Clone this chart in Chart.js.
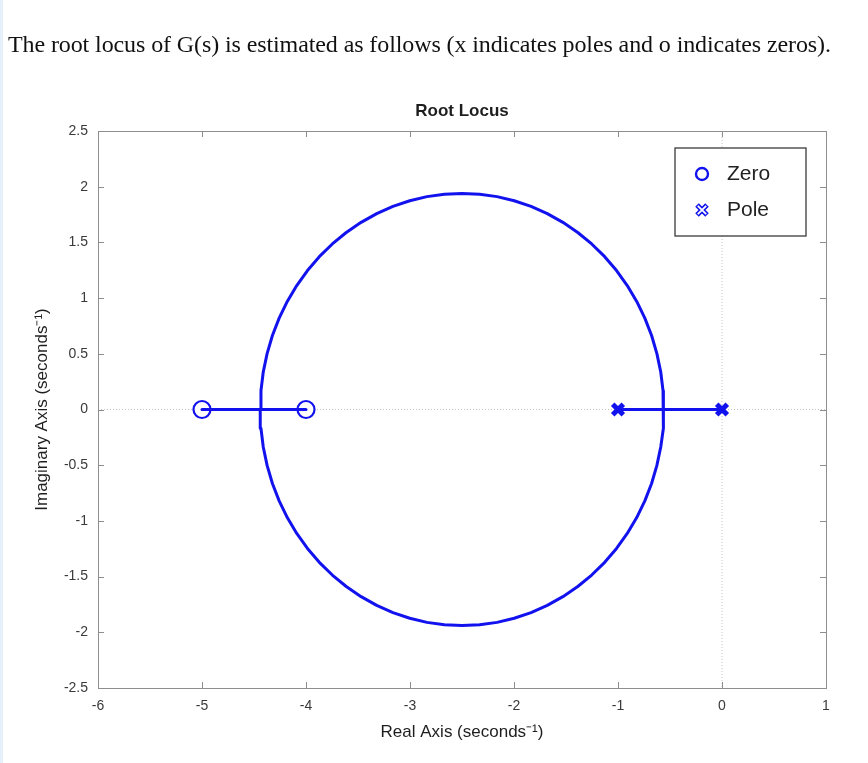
<!DOCTYPE html>
<html>
<head>
<meta charset="utf-8">
<script src="https://cdn.jsdelivr.net/npm/chart.js@4.4.1/dist/chart.umd.min.js"></script>
<style>
    html, body { margin: 0; padding: 0; background: #fff; }
    body { width: 868px; height: 763px; position: relative; overflow: hidden; }
    .edge { position: absolute; left: 0; top: 0; width: 3px; height: 763px; background: #e6f0fa; }
    .caption {
        position: absolute; left: 8px; top: 31px;
        font-family: "Liberation Serif", "Times New Roman", serif;
        font-size: 24px; color: #111; white-space: nowrap;
        letter-spacing: -0.1px;
    }
    #wrap { position: absolute; left: 0; top: 0; width: 868px; height: 763px; }
</style>
</head>
<body>
<div class="edge"></div>
<div id="wrap"><canvas id="locusChart"></canvas></div>
<div class="caption">The root locus of G(s) is estimated as follows (x indicates poles and o indicates zeros).</div>
<script>
// circle part of the locus (closed loop: upper half left->right, lower half right->left)
const locusRe = [
    -4.440, -4.433, -4.411, -4.374, -4.323, -4.258, -4.180, -4.089, -3.986, -3.872,
    -3.747, -3.613, -3.470, -3.320, -3.164, -3.002, -2.837, -2.669, -2.500,
    -2.331, -2.163, -1.998, -1.836, -1.680, -1.530, -1.387, -1.253, -1.128,
    -1.014, -0.911, -0.820, -0.742, -0.677, -0.626, -0.589, -0.567, -0.560,
    -0.567, -0.589, -0.626, -0.677, -0.742, -0.820, -0.911, -1.014, -1.128,
    -1.253, -1.387, -1.530, -1.680, -1.836, -1.998, -2.163, -2.331, -2.500,
    -2.669, -2.837, -3.002, -3.164, -3.320, -3.470, -3.613, -3.747, -3.872,
    -3.986, -4.089, -4.180, -4.258, -4.323, -4.374, -4.411, -4.433, -4.440
];
const locusIm = [
    0, 0.169, 0.337, 0.502, 0.664, 0.820, 0.970, 1.113, 1.247, 1.372,
    1.486, 1.589, 1.680, 1.758, 1.823, 1.874, 1.911, 1.933, 1.940,
    1.933, 1.911, 1.874, 1.823, 1.758, 1.680, 1.589, 1.486, 1.372,
    1.247, 1.113, 0.970, 0.820, 0.664, 0.502, 0.337, 0.169, 0,
    -0.169, -0.337, -0.502, -0.664, -0.820, -0.970, -1.113, -1.247, -1.372,
    -1.486, -1.589, -1.680, -1.758, -1.823, -1.874, -1.911, -1.933, -1.940,
    -1.933, -1.911, -1.874, -1.823, -1.758, -1.680, -1.589, -1.486, -1.372,
    -1.247, -1.113, -0.970, -0.820, -0.664, -0.502, -0.337, -0.169, 0
];

// branches on the real axis
const leftBranchRe = [-5, -4];
const rightBranchRe = [-1, 0];

const zeroRe = [-5, -4];
const poleRe = [-1, 0];

const xMin = -6, xMax = 1, xStep = 1;
const yMin = -2.5, yMax = 2.5, yStep = 0.5;

const BLUE = "rgb(18, 18, 238)";
const FONT = "'Liberation Sans', Arial, Helvetica, sans-serif";

function pts(re, im) {
    return re.map((x, i) => ({ x: x, y: im ? im[i] : 0 }));
}

// box, inward ticks, dotted zero lines and the title
const framePlugin = {
    id: "frame",
    beforeDatasetsDraw(chart) {
        const { ctx, chartArea: a, scales } = chart;
        ctx.save();
        // dotted lines through the origin
        ctx.strokeStyle = "#c4c4c4";
        ctx.lineWidth = 1;
        ctx.setLineDash([1, 2]);
        const x0 = scales.x.getPixelForValue(0);
        const y0 = scales.y.getPixelForValue(0);
        ctx.beginPath();
        ctx.moveTo(x0, a.top); ctx.lineTo(x0, a.bottom);
        ctx.moveTo(a.left, y0); ctx.lineTo(a.right, y0);
        ctx.stroke();
        ctx.setLineDash([]);

        // axes box
        ctx.strokeStyle = "#8e8e8e";
        ctx.lineWidth = 1;
        ctx.strokeRect(a.left + 0.5, a.top + 0.5, a.right - a.left, a.bottom - a.top);

        // ticks pointing inwards
        const len = 6;
        ctx.beginPath();
        scales.x.ticks.forEach(t => {
            const px = Math.round(scales.x.getPixelForValue(t.value)) + 0.5;
            ctx.moveTo(px, a.bottom); ctx.lineTo(px, a.bottom - len);
            ctx.moveTo(px, a.top); ctx.lineTo(px, a.top + len);
        });
        scales.y.ticks.forEach(t => {
            const py = Math.round(scales.y.getPixelForValue(t.value)) + 0.5;
            ctx.moveTo(a.left, py); ctx.lineTo(a.left + len, py);
            ctx.moveTo(a.right, py); ctx.lineTo(a.right - len, py);
        });
        ctx.stroke();

        // title
        ctx.fillStyle = "#1e1e1e";
        ctx.font = "bold 17px " + FONT;
        ctx.textAlign = "center";
        ctx.textBaseline = "middle";
        ctx.fillText("Root Locus", (a.left + a.right) / 2, a.top - 20);
        ctx.restore();
    },
    afterDatasetsDraw(chart) {
        const { ctx, chartArea: a } = chart;
        const w = 131, h = 88;
        const bx = a.right - 20 - w, by = a.top + 17;
        ctx.save();
        ctx.fillStyle = "#fff";
        ctx.fillRect(bx, by, w, h);
        ctx.strokeStyle = "#3a3a3a";
        ctx.lineWidth = 1.3;
        ctx.strokeRect(bx, by, w, h);

        const mx = bx + 27;
        const zy = by + 26, py = by + 62;
        // zero marker
        ctx.beginPath();
        ctx.arc(mx, zy, 6, 0, Math.PI * 2);
        ctx.strokeStyle = BLUE;
        ctx.lineWidth = 2.4;
        ctx.stroke();
        // pole marker (outlined x)
        const s = 5;
        ctx.beginPath();
        ctx.moveTo(mx - s, py - s); ctx.lineTo(mx + s, py + s);
        ctx.moveTo(mx - s, py + s); ctx.lineTo(mx + s, py - s);
        ctx.lineWidth = 5;
        ctx.stroke();
        ctx.beginPath();
        ctx.moveTo(mx - s + 0.8, py - s + 0.8); ctx.lineTo(mx + s - 0.8, py + s - 0.8);
        ctx.moveTo(mx - s + 0.8, py + s - 0.8); ctx.lineTo(mx + s - 0.8, py - s + 0.8);
        ctx.strokeStyle = "#fff";
        ctx.lineWidth = 1.8;
        ctx.stroke();

        ctx.fillStyle = "#222";
        ctx.font = "21px " + FONT;
        ctx.textAlign = "left";
        ctx.textBaseline = "middle";
        ctx.fillText("Zero", bx + 52, zy);
        ctx.fillText("Pole", bx + 52, py);
        ctx.restore();
    }
};

const lineStyle = {
    showLine: true, pointRadius: 0, borderColor: BLUE, borderWidth: 3, tension: 0, fill: false,
    borderCapStyle: "round", borderJoinStyle: "round"
};

const tickText = v => String(Math.round(v * 10) / 10);

new Chart(document.getElementById("locusChart"), {
    type: "scatter",
    data: {
        datasets: [
            { label: "Locus", data: pts(locusRe, locusIm), ...lineStyle },
            { label: "Left branch", data: pts(leftBranchRe), ...lineStyle },
            { label: "Right branch", data: pts(rightBranchRe), ...lineStyle },
            {
                label: "Zero", data: pts(zeroRe), pointStyle: "circle", pointRadius: 8.5,
                backgroundColor: "#fff", borderColor: BLUE, borderWidth: 2.2
            },
            {
                label: "Pole", data: pts(poleRe), pointStyle: "crossRot", pointRadius: 7.5,
                borderColor: BLUE, borderWidth: 5
            },
            {
                label: "Pole inner", data: pts(poleRe), pointStyle: "crossRot", pointRadius: 6.3,
                borderColor: "#fff", borderWidth: 1.8
            }
        ]
    },
    options: {
        responsive: true,
        maintainAspectRatio: false,
        animation: false,
        events: [],
        layout: { padding: { left: 20, right: 42, top: 131, bottom: 20 } },
        plugins: {
            legend: { display: false },
            tooltip: { enabled: false },
            title: { display: false }
        },
        scales: {
            x: {
                type: "linear",
                min: xMin, max: xMax,
                ticks: { stepSize: xStep, color: "#3a3a3a", padding: 10, font: { family: FONT, size: 14 }, callback: tickText },
                grid: { display: false, drawTicks: false },
                border: { display: false },
                title: {
                    display: true, text: "Real Axis (seconds\u207B\u00B9)", color: "#1e1e1e",
                    font: { family: FONT, size: 17 }, padding: { top: 0, bottom: 0 }
                },
                afterFit(scale) { scale.height = 55; }
            },
            y: {
                type: "linear",
                min: yMin, max: yMax,
                ticks: { stepSize: yStep, color: "#3a3a3a", padding: 10, font: { family: FONT, size: 14 }, callback: tickText },
                grid: { display: false, drawTicks: false },
                border: { display: false },
                title: {
                    display: true, text: "Imaginary Axis (seconds\u207B\u00B9)", color: "#1e1e1e",
                    font: { family: FONT, size: 17 }, padding: { top: 12, bottom: 0 }
                },
                afterFit(scale) { scale.width = 78; }
            }
        }
    },
    plugins: [framePlugin]
});
</script>
</body>
</html>
